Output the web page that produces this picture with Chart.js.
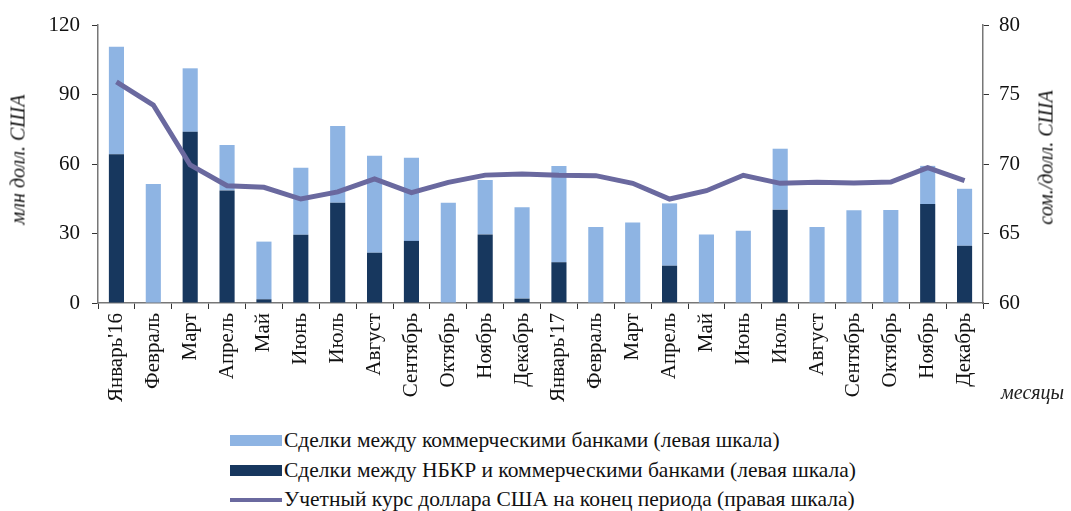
<!DOCTYPE html>
<html>
<head>
<meta charset="utf-8">
<script src="https://cdn.jsdelivr.net/npm/chart.js@4.4.1/dist/chart.umd.min.js"></script>
<style>
  body { margin: 0; background: #fff; font-family: "Liberation Serif", serif; }
  #wrap { position: relative; width: 1071px; height: 511px; }
  #box { position: absolute; left: 0; top: 0; width: 1071px; height: 415px; }
  #months { position: absolute; left: 1001px; top: 381px; font-style: italic; font-size: 20px; color: #222; }
  .vt { position: absolute; width: 200px; text-align: center; font-style: italic; font-size: 20px; color: #111;
        transform: rotate(-90deg); transform-origin: center center; white-space: nowrap; }
  #legend { position: absolute; left: 230px; top: 426px; font-size: 21.5px; color: #111; line-height: 29.5px; }
  .item { display: flex; align-items: center; white-space: nowrap; }
  .sw { width: 52px; height: 11px; margin-right: 2px; }
  .ln { width: 52px; height: 4px; margin-right: 2px; background: #6a699f; }
</style>
</head>
<body>
<div id="wrap">
  <div id="box"><canvas id="myChart"></canvas></div>
  <div class="vt" style="left:-82px; top:148px;">млн долл. США</div>
  <div class="vt" style="left:946px; top:146px;">сом./долл. США</div>
  <div id="months">месяцы</div>
  <div id="legend">
    <div class="item"><span class="sw" style="background:#8eb4e3"></span>Сделки между коммерческими банками (левая шкала)</div>
    <div class="item"><span class="sw" style="background:#17375e"></span>Сделки между НБКР и коммерческими банками (левая шкала)</div>
    <div class="item"><span class="ln"></span>Учетный курс доллара США на конец периода (правая шкала)</div>
  </div>
</div>
<script>
const ctx = document.getElementById('myChart');

const months = ["Январь'16", 'Февраль', 'Март', 'Апрель', 'Май', 'Июнь', 'Июль', 'Август', 'Сентябрь', 'Октябрь', 'Ноябрь', 'Декабрь',
  "Январь'17", 'Февраль', 'Март', 'Апрель', 'Май', 'Июнь', 'Июль', 'Август', 'Сентябрь', 'Октябрь', 'Ноябрь', 'Декабрь'];

// сделки НБКР с коммерческими банками, млн долл.
const nbkr = [64.2, 0, 73.9, 48.6, 1.6, 29.5, 43.3, 21.7, 26.8, 0, 29.6, 1.9,
  17.6, 0, 0, 16.1, 0, 0, 40.3, 0, 0, 0, 42.7, 24.7];

// сделки между коммерческими банками, млн долл.
const banks = [46.4, 51.4, 27.4, 19.6, 24.9, 28.9, 33.1, 41.9, 35.9, 43.3, 23.5, 39.4,
  41.5, 32.8, 34.7, 26.9, 29.6, 31.2, 26.3, 32.8, 40.0, 40.1, 16.5, 24.6];

// учетный курс, сом/долл.
const rate = [75.9, 74.24, 69.93, 68.44, 68.32, 67.48, 67.99, 68.92, 67.94, 68.68, 69.2, 69.28,
  69.19, 69.16, 68.61, 67.48, 68.08, 69.19, 68.61, 68.68, 68.63, 68.7, 69.73, 68.8];

const leftTicks = [0, 30, 60, 90, 120];
const rightTicks = [60, 65, 70, 75, 80];

const font = { family: 'Liberation Serif', size: 21 };
const axisColor = '#777';

new Chart(ctx, {
  data: {
    labels: months,
    datasets: [
      {
        type: 'line',
        label: 'Учетный курс доллара США на конец периода (правая шкала)',
        data: rate,
        yAxisID: 'y2',
        borderColor: '#6a699f',
        borderWidth: 5,
        pointRadius: 0,
        tension: 0,
        order: 0
      },
      {
        type: 'bar',
        label: 'Сделки между НБКР и коммерческими банками (левая шкала)',
        data: nbkr,
        yAxisID: 'y',
        backgroundColor: '#17375e',
        barPercentage: 0.41,
        categoryPercentage: 1,
        order: 1
      },
      {
        type: 'bar',
        label: 'Сделки между коммерческими банками (левая шкала)',
        data: banks,
        yAxisID: 'y',
        backgroundColor: '#8eb4e3',
        barPercentage: 0.41,
        categoryPercentage: 1,
        order: 1
      }
    ]
  },
  options: {
    responsive: true,
    maintainAspectRatio: false,
    animation: false,
    layout: { padding: { top: 25, left: 0, right: 0, bottom: 0 } },
    plugins: {
      legend: { display: false },
      tooltip: { enabled: false }
    },
    scales: {
      x: {
        stacked: true,
        offset: true,
        grid: { offset: true, drawOnChartArea: false, drawTicks: true, tickLength: 6, color: '#333' },
        border: { color: axisColor, width: 1.5 },
        ticks: { color: '#111', font: font, maxRotation: 90, minRotation: 90, padding: 4, autoSkip: false },
        afterFit: (s) => { s.height = 112; }
      },
      y: {
        stacked: true,
        position: 'left',
        min: 0,
        max: 120,
        afterBuildTicks: (s) => { s.ticks = leftTicks.map(v => ({ value: v })); },
        grid: { drawOnChartArea: false, tickLength: 6, color: '#333' },
        border: { color: axisColor, width: 1.5 },
        ticks: { color: '#111', font: font, padding: 12 },
        afterFit: (s) => { s.width = 98; }
      },
      y2: {
        position: 'right',
        min: 60,
        max: 80,
        afterBuildTicks: (s) => { s.ticks = rightTicks.map(v => ({ value: v })); },
        grid: { drawOnChartArea: false, tickLength: 6, color: '#333' },
        border: { color: axisColor, width: 1.5 },
        ticks: { color: '#111', font: font, padding: 10 },
        afterFit: (s) => { s.width = 88; }
      }
    }
  }
});
</script>
</body>
</html>
